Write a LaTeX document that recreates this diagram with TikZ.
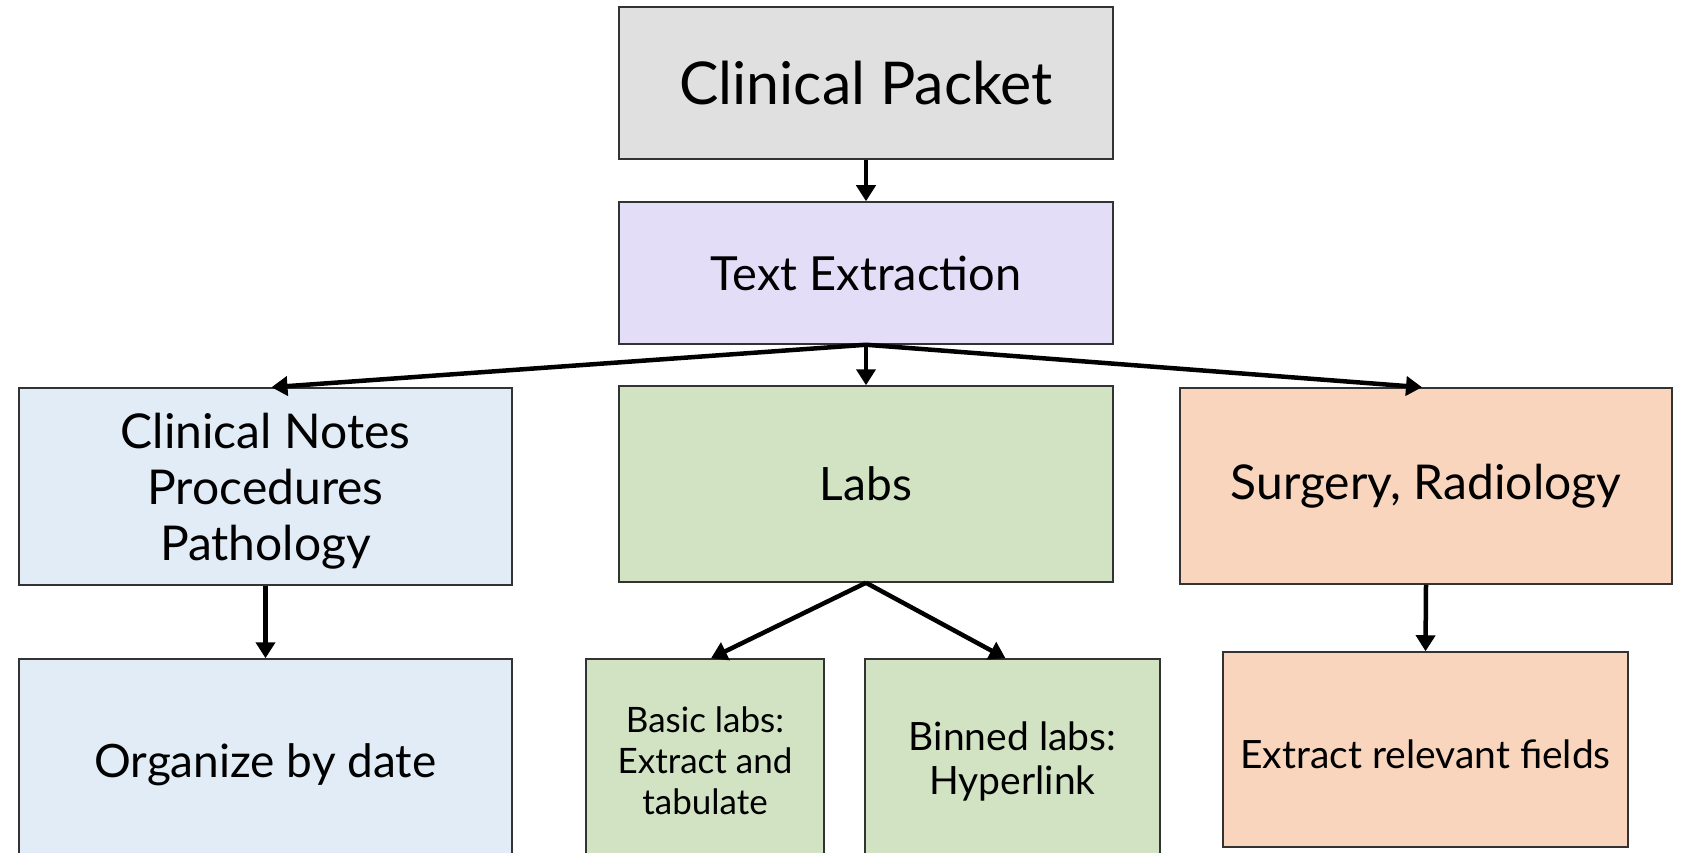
\documentclass[tikz,border=0pt]{standalone}
\usepackage{fontspec}
\setmainfont{Lato}
\usetikzlibrary{arrows.meta}
\definecolor{cpgray}{RGB}{224,224,224}
\definecolor{telav}{RGB}{227,221,248}
\definecolor{cnblue}{RGB}{226,236,246}
\definecolor{labgreen}{RGB}{209,227,195}
\definecolor{srpeach}{RGB}{248,213,188}
\tikzset{
  box/.style={draw=black!80, line width=1.5pt, rectangle, align=center, inner sep=0pt},
  flow/.style={line width=4.5pt, -{Triangle[length=16pt,width=19pt]}}
}
\begin{document}
\begin{tikzpicture}[x=1pt,y=-1pt]
\useasboundingbox (0,0) rectangle (1683,853);
\clip (0,0) rectangle (1683,853);
\fill[white] (0,0) rectangle (1683,853);
\node[box, fill=cpgray, minimum width=494pt, minimum height=152pt, font=\fontsize{59}{65}\selectfont] (cp) at (866,83) {Clinical Packet};
\node[box, fill=telav, minimum width=494pt, minimum height=142pt, font=\fontsize{47}{52}\selectfont] (te) at (866,273) {Text Extraction};
\node[box, fill=cnblue, minimum width=493pt, minimum height=197pt, text depth=0pt, font=\fontsize{48}{56}\selectfont] (cn) at (265.5,486.5) {Clinical Notes\\Procedures\\Pathology};
\node[box, fill=labgreen, minimum width=494pt, minimum height=196pt, font=\fontsize{46}{52}\selectfont] (labs) at (866,484) {Labs};
\node[box, fill=srpeach, minimum width=492pt, minimum height=196pt, font=\fontsize{48}{54}\selectfont] (sr) at (1426,486) {Surgery, Radiology};
\node[box, fill=cnblue, minimum width=493pt, minimum height=204pt, text depth=0pt, font=\fontsize{46}{52}\selectfont] (org) at (265.5,761) {Organize by date};
\node[box, fill=labgreen, minimum width=238pt, minimum height=204pt, font=\fontsize{35}{41}\selectfont] (basic) at (705,761) {Basic labs:\\Extract and\\tabulate};
\node[box, fill=labgreen, minimum width=295pt, minimum height=204pt, font=\fontsize{39}{44}\selectfont] (binned) at (1012.5,761) {Binned labs:\\Hyperlink};
\node[box, fill=srpeach, minimum width=405pt, minimum height=195pt, text height=39pt, font=\fontsize{39}{45}\selectfont] (erf) at (1425.5,749.5) {Extract relevant fields};
\draw[flow] (cp.south) -- (te.north);
\draw[flow] (te.south) -- ([xshift=6pt]cn.north);
\draw[flow] (te.south) -- (labs.north);
\draw[flow] (te.south) -- ([xshift=-4pt]sr.north);
\draw[flow] (cn.south) -- (org.north);
\draw[flow] (labs.south) -- ([xshift=6pt]basic.north);
\draw[flow] (labs.south) -- ([xshift=-7pt]binned.north);
\draw[flow] (sr.south) -- (erf.north);
\end{tikzpicture}
\end{document}
